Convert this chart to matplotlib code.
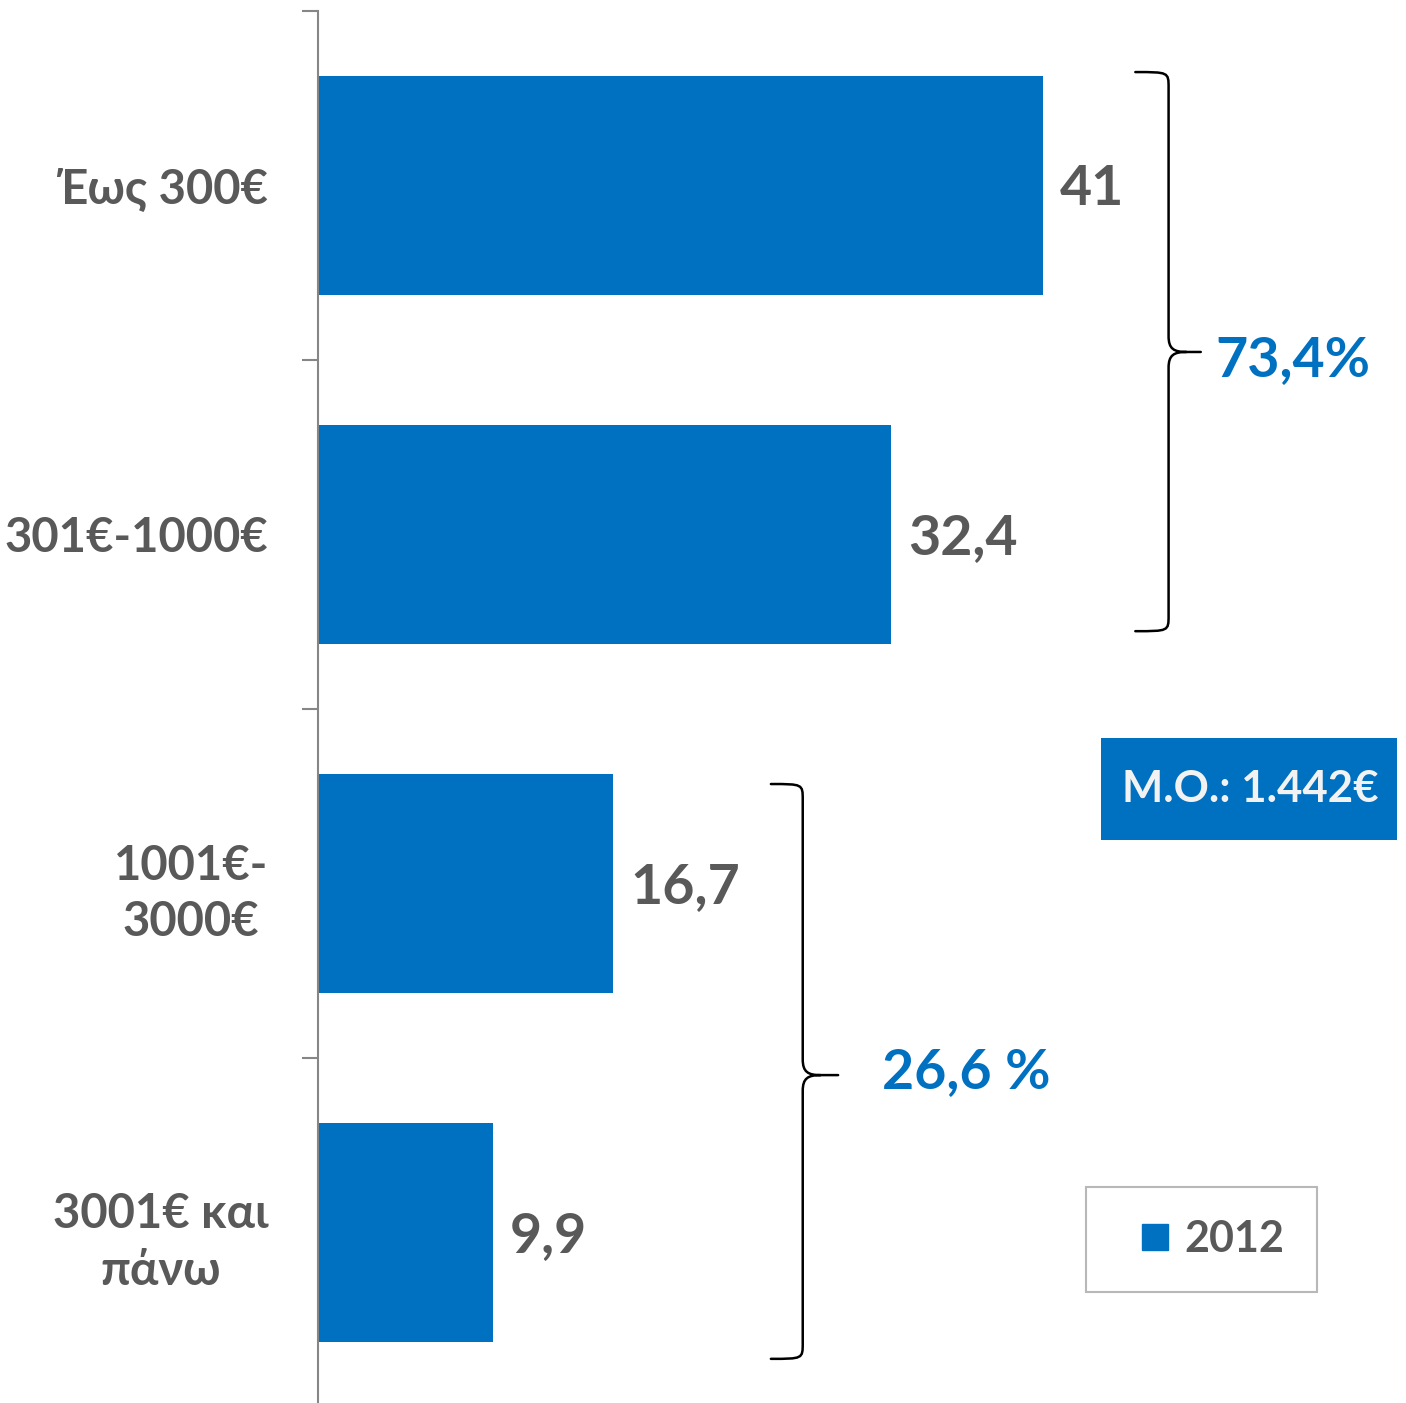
import matplotlib
matplotlib.use('Agg')
import matplotlib.pyplot as plt
from matplotlib.path import Path
from matplotlib.patches import PathPatch, Rectangle
from matplotlib.lines import Line2D
import numpy as np

plt.rcParams['font.family'] = ['Lato', 'Noto Sans', 'DejaVu Sans']
plt.rcParams['font.weight'] = 'bold'

categories = ['Έως 300€', '301€-1000€', '1001€-\n3000€', '3001€ και\nπάνω']
values = [41, 32.4, 16.7, 9.9]
value_labels = ['41', '32,4', '16,7', '9,9']
series_name = '2012'
group_labels = ['73,4%', '26,6 %']
mean_text = 'M.O.: 1.442€'

blue = '#0070C0'
grey_txt = '#595959'
W, H = 1406, 1403

fig = plt.figure(figsize=(W / 100, H / 100), dpi=100)
ax = fig.add_axes([318 / W, -4 / H, 1088 / W, 1396 / H])

ypos = np.arange(len(categories))
bars = ax.barh(ypos, values, height=0.628, color=blue, label=series_name)
ax.set_xlim(0, 61.5)
ax.set_ylim(3.5, -0.5)

for sp in ['top', 'right', 'bottom']:
    ax.spines[sp].set_visible(False)
ax.spines['left'].set_color('#868686')
ax.spines['left'].set_linewidth(1.5)
ax.set_xticks([])
ax.set_yticks(ypos)
ax.set_yticklabels(categories, fontsize=34, color=grey_txt, fontweight='bold',
                   multialignment='center', linespacing=1.35)
ax.tick_params(axis='y', which='major', length=0, pad=36)
ax.set_yticks(np.arange(-0.5, len(categories), 1.0), minor=True)
ax.tick_params(axis='y', which='minor', length=11.5, width=1.5, color='#868686')

for v, lab, y in zip(values, value_labels, ypos):
    ax.annotate(lab, (v, y + 0.01), xytext=(12, 0), textcoords='offset points',
                ha='left', va='center', fontsize=40, color=grey_txt, fontweight='bold')


def brace(x_spine, x_tip, x_point, y_top, y_mid, y_bot, r=0.045):
    verts = [
        (x_tip, y_top), (x_spine, y_top), (x_spine, y_top), (x_spine, y_top + r),
        (x_spine, y_mid - r),
        (x_spine, y_mid - r * 0.2), (x_spine + 0.3, y_mid), (x_spine + 1.0, y_mid),
        (x_point, y_mid),
        (x_spine + 1.0, y_mid),
        (x_spine + 0.3, y_mid), (x_spine, y_mid + r * 0.2), (x_spine, y_mid + r),
        (x_spine, y_bot - r),
        (x_spine, y_bot), (x_spine, y_bot), (x_tip, y_bot),
    ]
    codes = [Path.MOVETO, Path.CURVE4, Path.CURVE4, Path.CURVE4,
             Path.LINETO,
             Path.CURVE4, Path.CURVE4, Path.CURVE4,
             Path.LINETO,
             Path.MOVETO,
             Path.CURVE4, Path.CURVE4, Path.CURVE4,
             Path.LINETO,
             Path.CURVE4, Path.CURVE4, Path.CURVE4]
    ax.add_patch(PathPatch(Path(verts, codes), fill=False, edgecolor='black',
                           linewidth=1.8, capstyle='round', joinstyle='round'))


brace(48.08, 46.2, 49.9, -0.325, 0.477, 1.277)
brace(27.4, 25.6, 29.4, 1.715, 2.549, 3.362)

ax.text(50.7, 0.5, group_labels[0], ha='left', va='center', fontsize=40,
        color=blue, fontweight='bold')
ax.text(31.9, 2.54, group_labels[1], ha='left', va='center', fontsize=40,
        color=blue, fontweight='bold')

# mean value box
fig.patches.append(Rectangle((1101 / W, 1 - 840 / H), 296 / W, 102 / H,
                             transform=fig.transFigure, facecolor=blue,
                             edgecolor='none', zorder=5))
fig.text(1250 / W, 1 - 789 / H, mean_text, ha='center', va='center',
         fontsize=31.5, color='#F2F2F2', fontweight='bold', zorder=6)

handle = Line2D([], [], marker='s', linestyle='none', markersize=18.7,
                markerfacecolor=blue, markeredgecolor=blue)
leg = ax.legend([handle], [series_name], loc='center',
                bbox_to_anchor=(1201.5 / W, 1 - 1239.5 / H),
                bbox_transform=fig.transFigure, frameon=True, fancybox=False,
                prop={'size': 31, 'weight': 'bold'}, borderpad=0.75,
                handlelength=1.7, handletextpad=-0.15)
leg.get_frame().set_edgecolor('#A6A6A6')
leg.get_frame().set_linewidth(1.5)
for t in leg.get_texts():
    t.set_color(grey_txt)

fig.savefig('out.png', dpi=100)
